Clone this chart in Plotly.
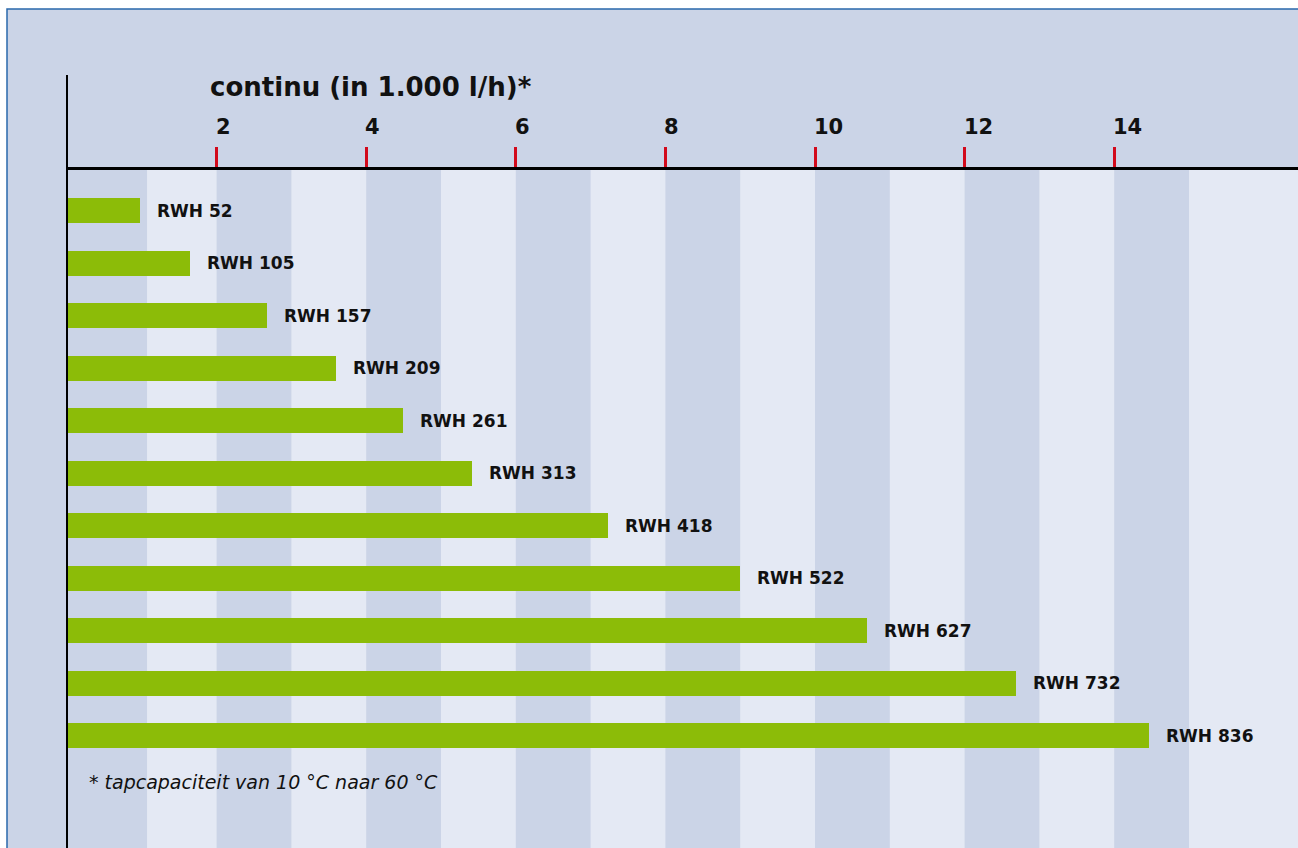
import plotly.graph_objects as go

# ---- data ----
models = ["RWH 52", "RWH 105", "RWH 157", "RWH 209", "RWH 261", "RWH 313",
          "RWH 418", "RWH 522", "RWH 627", "RWH 732", "RWH 836"]
capacity = [0.97, 1.65, 2.68, 3.60, 4.49, 5.41, 7.23, 9.00, 10.69, 12.69, 14.47]
tick_values = [2, 4, 6, 8, 10, 12, 14]
tick_labels = ["2", "4", "6", "8", "10", "12", "14"]
title_text = "continu (in 1.000 l/h)*"
footnote_text = "* tapcapaciteit van 10 °C naar 60 °C"

# ---- layout constants ----
W, H = 1298, 848
ML, MT = 67, 170
PW, PH = W - ML, H - MT
PX_PER_UNIT = 74.8
XMAX = PW / PX_PER_UNIT
ROW_PX = 52.5
FIRST_ROW_PX = 210.5 - MT  # centre of first bar below plot top

DARK = "#cbd4e7"
LIGHT = "#e4e9f4"
GREEN = "#8cbc08"
RED = "#d2091b"
BLUE = "#2a68ac"
FONT = "DejaVu Sans"


def px_x(px):
    return (px - ML) / PW


def px_y(py):
    return 1 + (MT - py) / PH


y_top = -FIRST_ROW_PX / ROW_PX
y_bottom = (PH - FIRST_ROW_PX) / ROW_PX

fig = go.Figure()
fig.add_trace(go.Bar(
    x=capacity, y=models, orientation="h",
    marker=dict(color=GREEN, line=dict(width=0)),
    width=25 / ROW_PX, hoverinfo="skip", showlegend=False,
))

shapes = []
# frame
shapes.append(dict(type="rect", xref="paper", yref="paper",
                   x0=px_x(7), x1=px_x(W + 20), y0=px_y(H + 20), y1=px_y(9),
                   fillcolor=DARK, line=dict(color=BLUE, width=1.5), layer="below"))
# light bands
bands = [(1.07, 2)] + [(2 * k + 1, 2 * k + 2) for k in range(1, 7)] + [(15, XMAX + 0.1)]
for a, b in bands:
    shapes.append(dict(type="rect", xref="x", yref="paper", x0=a, x1=b, y0=0, y1=1,
                       fillcolor=LIGHT, line=dict(width=0), layer="below"))
# vertical axis line
shapes.append(dict(type="line", xref="paper", yref="paper", x0=0, x1=0,
                   y0=px_y(H + 5), y1=px_y(75), line=dict(color="black", width=2)))

annotations = []
annotations.append(dict(text=f"<b>{title_text}</b>", xref="paper", yref="paper",
                        x=px_x(208), y=px_y(87), xanchor="left", yanchor="middle",
                        showarrow=False, font=dict(family=FONT, size=26, color="#111")))
for v, t in zip(tick_values, tick_labels):
    annotations.append(dict(text=f"<b>{t}</b>", xref="x", yref="paper", x=v, y=px_y(127),
                            xanchor="left", yanchor="middle", xshift=-3, showarrow=False,
                            font=dict(family=FONT, size=21, color="#111")))
for m, v in zip(models, capacity):
    annotations.append(dict(text=f"<b>{m}</b>", xref="x", yref="y", x=v, y=m,
                            xanchor="left", yanchor="middle", xshift=15, showarrow=False,
                            font=dict(family=FONT, size=17, color="#111")))
annotations.append(dict(text=f"<i>{footnote_text}</i>", xref="paper", yref="paper",
                        x=px_x(87), y=px_y(782), xanchor="left", yanchor="middle",
                        showarrow=False, font=dict(family=FONT, size=19, color="#111")))

fig.update_layout(
    width=W, height=H,
    margin=dict(l=ML, r=0, t=MT, b=0, pad=0),
    paper_bgcolor="white", plot_bgcolor=DARK,
    shapes=shapes, annotations=annotations,
    bargap=0,
    xaxis=dict(range=[0, XMAX], side="top", showgrid=False, zeroline=False,
               showline=True, linecolor="black", linewidth=2.5,
               ticks="outside", tickvals=tick_values, ticklen=20, tickwidth=2.5,
               tickcolor=RED, showticklabels=False, fixedrange=True),
    yaxis=dict(type="category", categoryarray=models, range=[y_bottom, y_top],
               showgrid=False, zeroline=False, showline=False, showticklabels=False,
               ticks="", fixedrange=True),
    font=dict(family=FONT),
)

fig.write_html("out.html", config={"displayModeBar": False})
